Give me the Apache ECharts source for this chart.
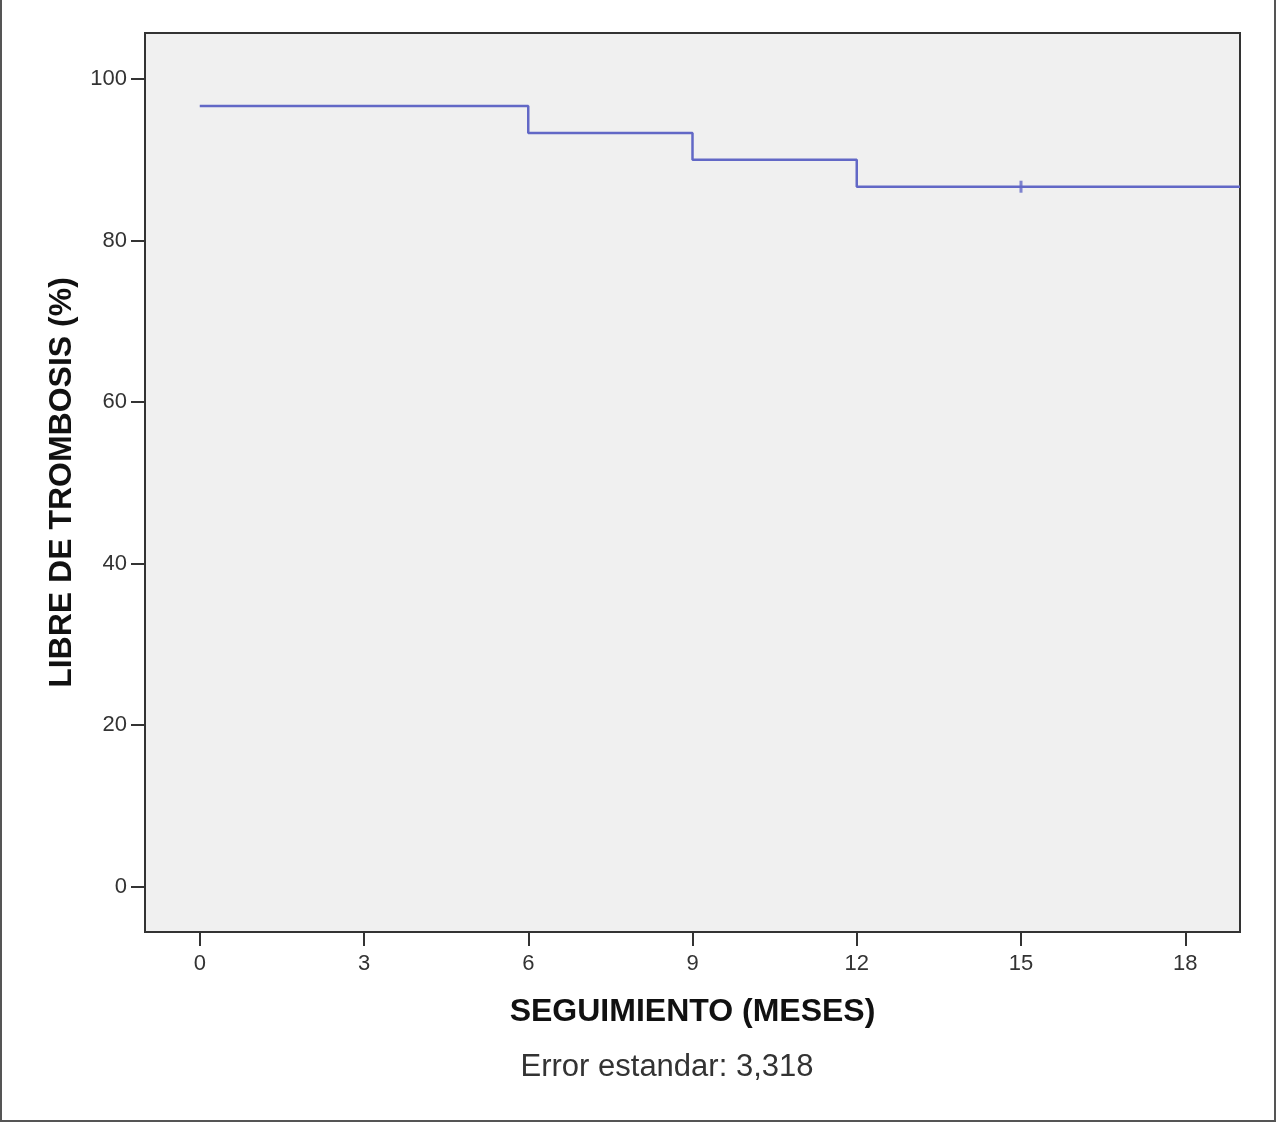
<!DOCTYPE html>
<html>
<head>
<meta charset="utf-8">
<script src="https://cdn.jsdelivr.net/npm/echarts@6/dist/echarts.min.js"></script>
<style>
html,body{margin:0;padding:0;background:#fff;}
#c{width:1277px;height:1124px;}
</style>
</head>
<body>
<div id="c"></div>
<script>
// Data
const months = [0, 6, 9, 12, 19];
const survival = [96.67, 93.33, 90.0, 86.67, 86.67];
const censoredMonths = [15];
const censoredValues = [86.67];
const xTicks = [0, 3, 6, 9, 12, 15, 18];
const yTicks = [0, 20, 40, 60, 80, 100];
const xTitle = 'SEGUIMIENTO (MESES)';
const yTitle = 'LIBRE DE TROMBOSIS (%)';
const footnote = 'Error estandar: 3,318';

const chart = echarts.init(document.getElementById('c'), null, {renderer: 'canvas'});
const font = 'Liberation Sans, Arial, sans-serif';
const lineColor = '#6268c6';

chart.setOption({
  animation: false,
  backgroundColor: '#ffffff',
  grid: {
    left: 145, top: 33, right: 37, bottom: 192,
    show: true, backgroundColor: '#f0f0f0', borderColor: '#333', borderWidth: 2
  },
  xAxis: {
    type: 'value', min: -1, max: 19,
    splitLine: {show: false},
    axisLine: {show: true, onZero: false, lineStyle: {color: '#333', width: 2}},
    axisTick: {show: true, length: 14, lineStyle: {color: '#333', width: 2}, customValues: xTicks},
    axisLabel: {color: '#333', fontSize: 22, fontFamily: font, margin: 21, customValues: xTicks},
    name: xTitle, nameLocation: 'middle', nameGap: 64, nameMoveOverlap: false,
    nameTextStyle: {color: '#111', fontSize: 32, fontWeight: 'bold', fontFamily: font}
  },
  yAxis: {
    type: 'value', min: -5.6, max: 105.7,
    splitLine: {show: false},
    axisLine: {show: true, onZero: false, lineStyle: {color: '#333', width: 2}},
    axisTick: {show: true, length: 14, lineStyle: {color: '#333', width: 2}, customValues: yTicks},
    axisLabel: {color: '#333', fontSize: 22, fontFamily: font, margin: 18, customValues: yTicks},
    name: yTitle, nameLocation: 'middle', nameGap: 67, nameRotate: 90, nameMoveOverlap: false,
    nameTextStyle: {color: '#111', fontSize: 32, fontWeight: 'bold', fontFamily: font}
  },
  series: [
    {
      type: 'line', step: 'end', showSymbol: false, symbol: 'none',
      data: months.map((m, i) => [m, survival[i]]),
      lineStyle: {color: lineColor, width: 2.5},
      clip: true
    },
    {
      type: 'scatter', symbol: 'rect', symbolSize: [3, 12],
      data: censoredMonths.map((m, i) => [m, censoredValues[i]]),
      itemStyle: {color: lineColor}
    }
  ],
  graphic: [
    {
      type: 'rect', silent: true,
      shape: {x: 1, y: -2, width: 1274, height: 1123},
      style: {fill: 'none', stroke: '#555', lineWidth: 2}
    },
    {
      type: 'text', silent: true, x: 667, y: 1067,
      style: {text: footnote, fill: '#333', font: '31px ' + font, textAlign: 'center', textVerticalAlign: 'middle'}
    }
  ]
});
</script>
</body>
</html>
